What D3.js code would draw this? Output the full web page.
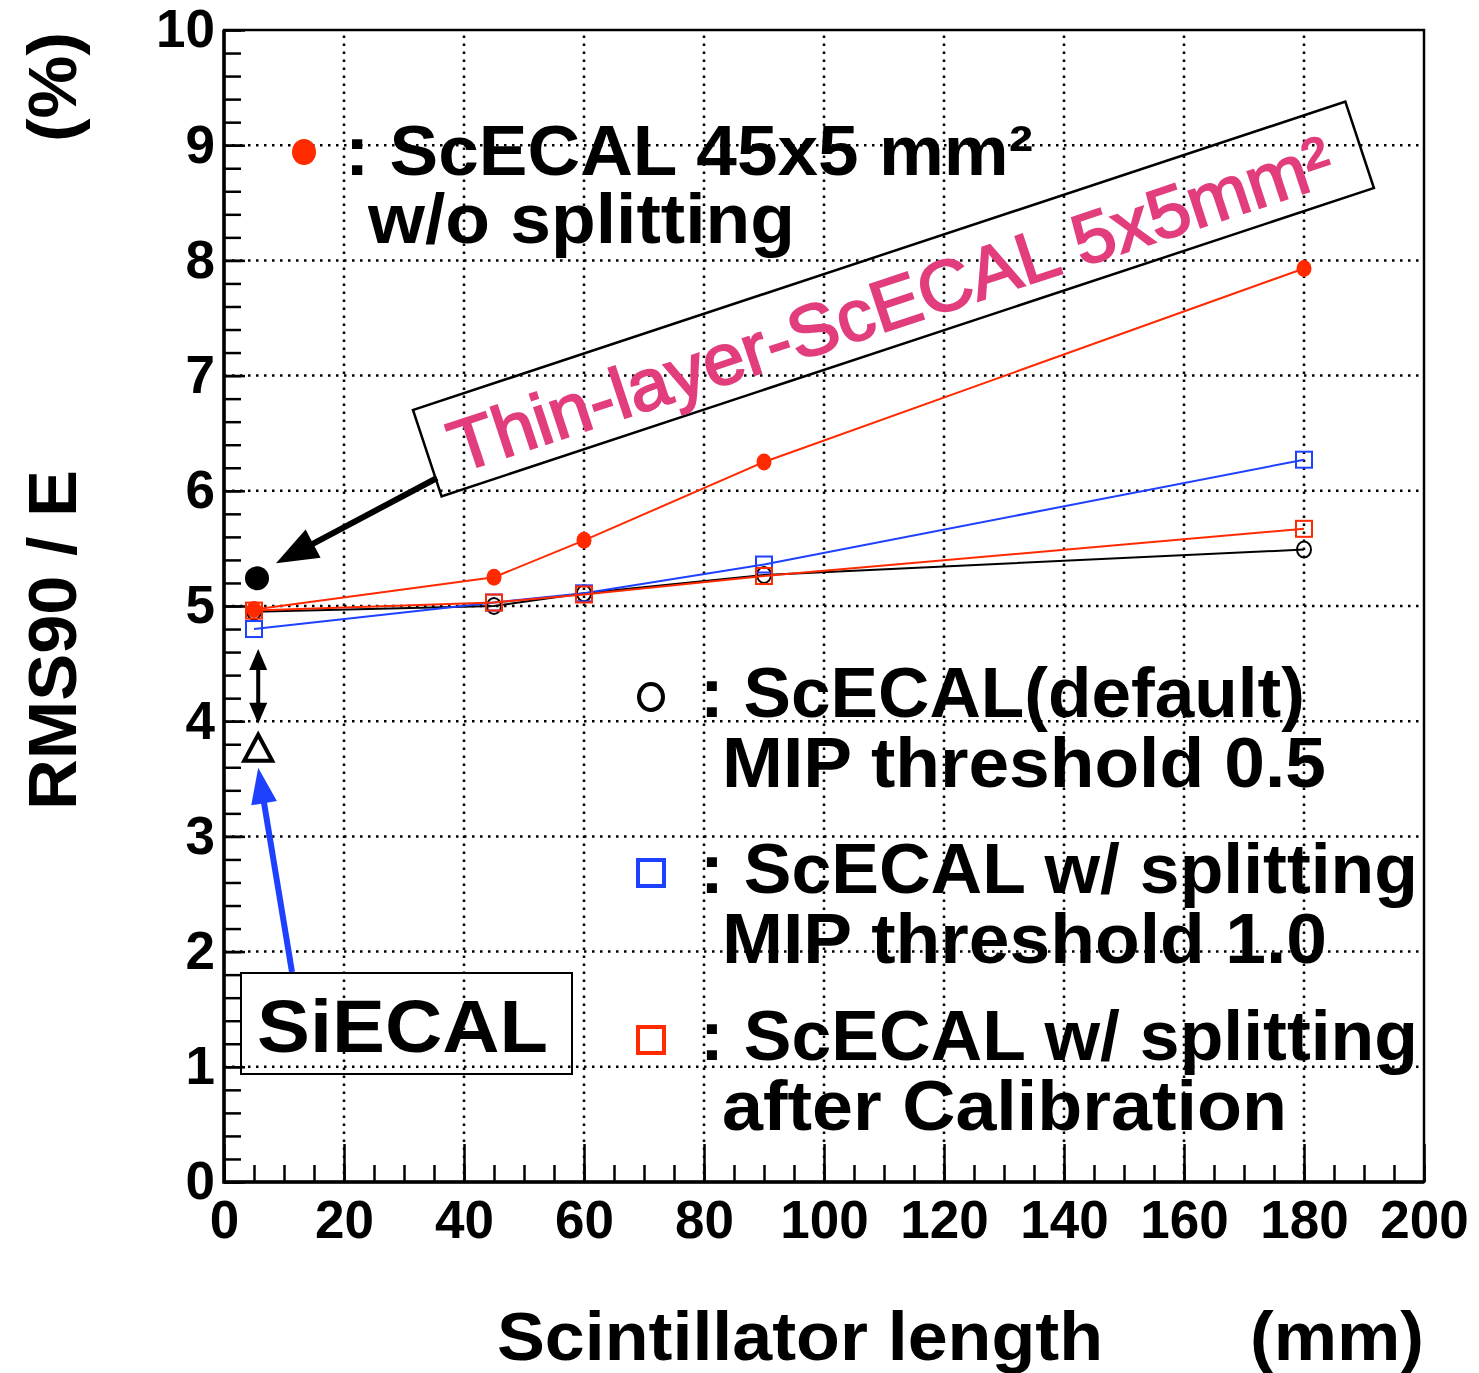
<!DOCTYPE html>
<html>
<head>
<meta charset="utf-8">
<script src="https://cdn.jsdelivr.net/npm/d3@7"></script>
<style>
  body { margin: 0; background: #fff; }
  svg text { font-family: "Liberation Sans", Arial, Helvetica, sans-serif; font-weight: bold; }
</style>
</head>
<body>
<script>
// scintillator length (mm)
const lengths = [5, 45, 60, 90, 180]
// RMS90/E (%) per configuration
const noSplitting = [4.97, 5.25, 5.57, 6.25, 7.93]      // ScECAL 45x5 w/o splitting
const defaultMip05 = [4.95, 5.00, 5.11, 5.27, 5.49]     // ScECAL(default) MIP 0.5
const splitMip10 = [4.80, 5.03, 5.11, 5.36, 6.27]       // w/ splitting MIP 1.0
const splitCalib = [4.96, 5.03, 5.10, 5.26, 5.67]       // w/ splitting after calibration
const thinLayer = [5.5, 5.24]                           // Thin-layer ScECAL 5x5
const siEcal = [5.7, 3.77]                              // SiECAL

const xTicks = d3.range(0, 201, 20)
const yTicks = d3.range(0, 11, 1)

const W = 1479, H = 1373
const red = '#ff2a00', blue = '#1e40ff', pink = '#e23d7d'

var svg = d3.select('body').append('svg')
    .attr('width', W)
    .attr('height', H)

var x = d3.scaleLinear().domain([0, 200]).range([224, 1424])
var y = d3.scaleLinear().domain([0, 10]).range([1182, 30])

// grid
svg.append('g').selectAll('line.gx')
  .data(xTicks.slice(1, -1))
  .enter().append('line')
    .attr('x1', d => x(d)).attr('x2', d => x(d))
    .attr('y1', y(0)).attr('y2', y(10))
    .attr('stroke', '#000').attr('stroke-width', 2.5)
    .attr('stroke-dasharray', '2.5,5.5')
svg.append('g').selectAll('line.gy')
  .data(yTicks.slice(1, -1))
  .enter().append('line')
    .attr('x1', x(0)).attr('x2', x(200))
    .attr('y1', d => y(d)).attr('y2', d => y(d))
    .attr('stroke', '#000').attr('stroke-width', 2.5)
    .attr('stroke-dasharray', '2.5,5.5')

// axes
function styleAxis(g) {
  g.select('.domain').remove()
  g.selectAll('line').attr('stroke', '#000').attr('stroke-width', 2.5)
  g.selectAll('text').attr('fill', '#000').style('font-size', '53px')
    .attr('font-family', null)
}
svg.append('g').attr('transform', `translate(0,${y(0)})`)
  .call(d3.axisBottom(x).tickValues(d3.range(0, 201, 5)).tickSize(-17).tickFormat(''))
  .call(styleAxis)
svg.append('g').attr('transform', `translate(0,${y(0)})`)
  .call(d3.axisBottom(x).tickValues(xTicks).tickSizeInner(-38).tickSizeOuter(0).tickPadding(18).tickFormat(d3.format('d')))
  .call(styleAxis)
svg.append('g').attr('transform', `translate(${x(0)},0)`)
  .call(d3.axisLeft(y).tickValues(d3.range(0, 10.01, 0.2)).tickSize(-17).tickFormat(''))
  .call(styleAxis)
svg.append('g').attr('transform', `translate(${x(0)},0)`)
  .call(d3.axisLeft(y).tickValues(yTicks).tickSizeInner(-21).tickSizeOuter(0).tickPadding(9).tickFormat(d3.format('d')))
  .call(styleAxis)

// frame
svg.append('rect')
  .attr('x', x(0)).attr('y', y(10))
  .attr('width', x(200) - x(0)).attr('height', y(0) - y(10))
  .attr('fill', 'none').attr('stroke', '#000').attr('stroke-width', 2.5)
svg.append('path')
  .attr('d', `M${x(0)},${y(10)}V${y(0)}H${x(200)}`)
  .attr('fill', 'none').attr('stroke', '#000').attr('stroke-width', 3.5)

// series
var series = [
  {vals: defaultMip05, color: '#000', marker: 'circle'},
  {vals: noSplitting, color: red, marker: 'dot'},
  {vals: splitMip10, color: blue, marker: 'square'},
  {vals: splitCalib, color: red, marker: 'square'}
]
var line = d3.line().x(d => x(d[0])).y(d => y(d[1]))

series.forEach(function(s) {
  var pts = lengths.map((l, i) => [l, s.vals[i]])
  svg.append('path')
    .attr('d', line(pts))
    .attr('fill', 'none').attr('stroke', s.color).attr('stroke-width', 2)
  var g = svg.append('g')
  if (s.marker == 'dot') {
    g.selectAll('ellipse').data(pts).enter().append('ellipse')
      .attr('cx', d => x(d[0])).attr('cy', d => y(d[1]))
      .attr('rx', 7.5).attr('ry', 8.5).attr('fill', s.color)
  } else if (s.marker == 'circle') {
    g.selectAll('ellipse').data(pts).enter().append('ellipse')
      .attr('cx', d => x(d[0])).attr('cy', d => y(d[1]))
      .attr('rx', 7).attr('ry', 8)
      .attr('fill', 'none').attr('stroke', s.color).attr('stroke-width', 2)
  } else {
    g.selectAll('rect').data(pts).enter().append('rect')
      .attr('x', d => x(d[0]) - 8).attr('y', d => y(d[1]) - 8)
      .attr('width', 16).attr('height', 16)
      .attr('fill', 'none').attr('stroke', s.color).attr('stroke-width', 2)
  }
})

// text helper
function label(txt, px, py, size, len, opts) {
  opts = opts || {}
  var t = svg.append('text')
    .attr('x', px).attr('y', py)
    .style('font-size', size + 'px')
    .attr('fill', opts.fill || '#000')
    .attr('text-anchor', opts.anchor || 'start')
    .text(txt)
  if (len) t.attr('textLength', len).attr('lengthAdjust', 'spacingAndGlyphs')
  if (opts.transform) t.attr('transform', opts.transform)
  return t
}

// arrows
function arrow(x1, y1, x2, y2, w, hl, hw, color, both) {
  var a = Math.atan2(y2 - y1, x2 - x1)
  var ca = Math.cos(a), sa = Math.sin(a)
  var sx = both ? x1 + ca * hl * 0.8 : x1, sy = both ? y1 + sa * hl * 0.8 : y1
  var ex = x2 - ca * hl * 0.8, ey = y2 - sa * hl * 0.8
  svg.append('line').attr('x1', sx).attr('y1', sy).attr('x2', ex).attr('y2', ey)
    .attr('stroke', color).attr('stroke-width', w)
  function head(tx, ty, dx, dy) {
    var bx = tx - dx * hl, by = ty - dy * hl
    svg.append('path')
      .attr('d', `M${tx},${ty}L${bx - dy * hw},${by + dx * hw}L${bx + dy * hw},${by - dx * hw}Z`)
      .attr('fill', color)
  }
  head(x2, y2, ca, sa)
  if (both) head(x1, y1, -ca, -sa)
}

// Thin-layer point and annotation
svg.append('circle')
  .attr('cx', x(thinLayer[0])).attr('cy', y(thinLayer[1])).attr('r', 12)
  .attr('fill', '#000')
arrow(437, 478, x(thinLayer[0]) + 19, y(thinLayer[1]) - 15, 6, 42, 16, '#000')

var box = svg.append('g').attr('transform', 'translate(413,410) rotate(-18.3)')
box.append('rect')
  .attr('x', 0).attr('y', 0).attr('width', 982).attr('height', 91)
  .attr('fill', 'none').attr('stroke', '#000').attr('stroke-width', 2.5)
box.append('text')
  .attr('x', 24).attr('y', 74)
  .style('font-size', '72px').style('font-weight', 'normal')
  .attr('fill', pink).attr('stroke', pink).attr('stroke-width', 2)
  .attr('textLength', 925).attr('lengthAdjust', 'spacingAndGlyphs')
  .text('Thin-layer-ScECAL 5x5mm²')

// SiECAL point and annotation
var tx = x(siEcal[0]), ty = y(siEcal[1])
svg.append('path')
  .attr('d', `M${tx},${ty - 13}L${tx + 14},${ty + 13}L${tx - 14},${ty + 13}Z`)
  .attr('fill', 'none').attr('stroke', '#000').attr('stroke-width', 4)
arrow(tx, y(splitMip10[0]) + 20, tx, ty - 24, 4, 21, 9, '#000', true)
arrow(292, 972, tx, ty + 20, 6, 36, 13, blue)
svg.append('rect')
  .attr('x', 241).attr('y', 973).attr('width', 331).attr('height', 101)
  .attr('fill', 'none').attr('stroke', '#000').attr('stroke-width', 2)
label('SiECAL', 257, 1052, 74, 291)

// legend
svg.append('ellipse').attr('cx', 304).attr('cy', 152).attr('rx', 12).attr('ry', 13).attr('fill', red)
label(': ScECAL 45x5 mm²', 345, 175, 70, 688)
label('w/o splitting', 368, 243, 70, 427)

svg.append('ellipse').attr('cx', 651).attr('cy', 697).attr('rx', 12).attr('ry', 13)
  .attr('fill', 'none').attr('stroke', '#000').attr('stroke-width', 4)
label(': ScECAL(default)', 700, 717, 70, 605)
label('MIP threshold 0.5', 722, 787, 70, 604)

svg.append('rect').attr('x', 638).attr('y', 860).attr('width', 26).attr('height', 26)
  .attr('fill', 'none').attr('stroke', blue).attr('stroke-width', 4)
label(': ScECAL w/ splitting', 700, 893, 70, 718)
label('MIP threshold 1.0', 722, 963, 70, 605)

svg.append('rect').attr('x', 638).attr('y', 1027).attr('width', 26).attr('height', 26)
  .attr('fill', 'none').attr('stroke', red).attr('stroke-width', 4)
label(': ScECAL w/ splitting', 700, 1060, 70, 718)
label('after Calibration', 722, 1130, 70, 565)

// axis titles
label('Scintillator length', 497, 1360, 68, 606)
label('(mm)', 1424, 1360, 68, 174, {anchor: 'end'})
label('RMS90 / E', 0, 0, 68, 340, {transform: 'translate(76,810) rotate(-90)'})
label('(%)', 0, 0, 68, 110, {transform: 'translate(76,142) rotate(-90)'})
</script>
</body>
</html>
